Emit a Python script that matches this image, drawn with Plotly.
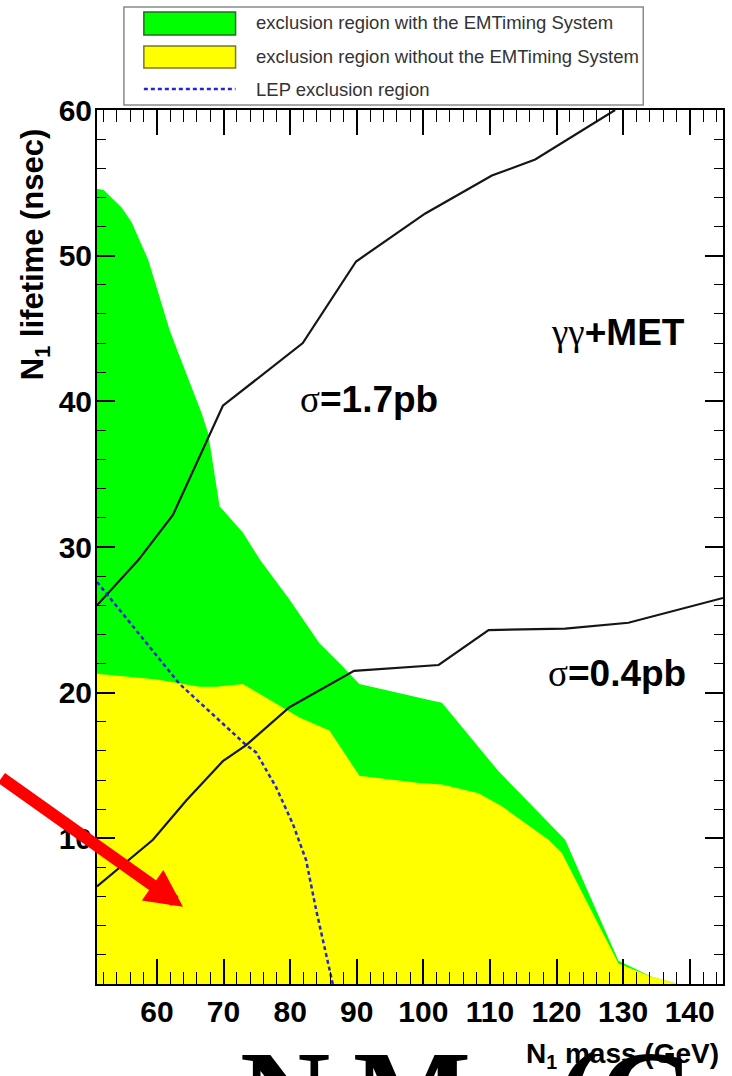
import plotly.graph_objects as go

# ---------------- data ----------------
green_mass = [51.0, 52.0, 54.7, 56.2, 58.7, 61.9, 63.4, 66.7, 67.7, 69.4, 72.9, 75.5,
              79.9, 84.4, 87.9, 90.4, 100.9, 102.8, 111.3, 121.3, 129.3, 134.3, 138.3]
green_life = [54.6, 54.5, 53.3, 52.3, 49.7, 44.9, 43.1, 39.2, 37.8, 32.8, 31.0, 29.1,
              26.4, 23.4, 21.8, 20.6, 19.5, 19.3, 14.6, 9.9, 1.6, 0.5, 0.0]

yellow_mass = [51.0, 60.0, 66.4, 68.9, 72.9, 78.9, 81.4, 85.9, 90.4, 99.4, 102.8, 108.3,
               111.8, 118.8, 120.8, 129.3, 134.3, 138.3]
yellow_life = [21.3, 20.9, 20.4, 20.4, 20.6, 19.0, 18.3, 17.4, 14.3, 13.8, 13.7, 13.1,
               12.2, 9.9, 9.0, 1.4, 0.5, 0.0]

sig17_mass = [51.0, 57.2, 62.4, 69.9, 81.9, 89.9, 100.3, 110.3, 116.8, 128.8]
sig17_life = [26.0, 29.1, 32.2, 39.7, 44.0, 49.6, 52.9, 55.5, 56.6, 60.0]

sig04_mass = [51.0, 59.4, 64.4, 69.9, 73.4, 79.9, 89.6, 102.3, 109.8, 121.3, 130.8, 145.0]
sig04_life = [6.7, 9.9, 12.6, 15.3, 16.4, 19.0, 21.5, 21.9, 24.3, 24.4, 24.8, 26.5]

lep_mass = [51.0, 56.9, 63.4, 68.4, 73.4, 74.9, 77.9, 80.4, 82.4, 83.9, 86.4]
lep_life = [27.6, 24.3, 20.6, 18.5, 16.4, 15.9, 13.5, 11.0, 8.5, 5.1, 0.0]

x_tickvals = [60, 70, 80, 90, 100, 110, 120, 130, 140]
x_ticktext = ["60", "70", "80", "90", "100", "110", "120", "130", "140"]
y_tickvals = [0, 10, 20, 30, 40, 50, 60]
y_ticktext = ["", "10", "20", "30", "40", "50", "60"]

legend_labels = ["exclusion region with the EMTiming System",
                 "exclusion region without the EMTiming System",
                 "LEP exclusion region"]

# big slide-title words that peek in at the bottom edge
slide_words = ["N<sub>1</sub>", "Mass", "(GeV)"]

# ---------------- layout geometry ----------------
W, H = 732, 1076
ML, MR, MT, MB = 97, 7, 110, 92
PW, PH = W - ML - MR, H - MT - MB


def px_x(p):
    return (p - ML) / PW


def px_y(p):
    return (H - MB - p) / PH


SANS = "Liberation Sans, Arial, Helvetica, sans-serif"
SERIF = "Liberation Serif, Times New Roman, serif"

fig = go.Figure()

fig.add_trace(go.Scatter(
    x=green_mass + [green_mass[0]], y=green_life + [0.0],
    mode="lines", fill="toself", fillcolor="#00ff00",
    line=dict(width=0, color="#00ff00"), hoverinfo="skip", showlegend=False))

fig.add_trace(go.Scatter(
    x=yellow_mass + [yellow_mass[0]], y=yellow_life + [0.0],
    mode="lines", fill="toself", fillcolor="#ffff00",
    line=dict(width=0, color="#ffff00"), hoverinfo="skip", showlegend=False))

fig.add_trace(go.Scatter(x=sig17_mass, y=sig17_life, mode="lines",
                         line=dict(color="#151515", width=2.2), showlegend=False))
fig.add_trace(go.Scatter(x=sig04_mass, y=sig04_life, mode="lines",
                         line=dict(color="#151515", width=2.2), showlegend=False))
fig.add_trace(go.Scatter(x=lep_mass, y=lep_life, mode="lines",
                         line=dict(color="#2424d8", width=2.5, dash="4px,3px"),
                         showlegend=False))

axis_common = dict(showline=True, linecolor="black", linewidth=2, mirror="allticks",
                   ticks="inside", tickcolor="black", showgrid=False, zeroline=False,
                   tickfont=dict(family=SANS, size=30, color="black", weight="bold"))

fig.update_xaxes(range=[51, 145], tickvals=x_tickvals, ticktext=x_ticktext,
                 ticklen=25, tickwidth=1.5, ticklabelstandoff=0,
                 minor=dict(dtick=2, tick0=50, ticks="inside", ticklen=12,
                            tickwidth=1.2, tickcolor="black"),
                 **axis_common)
fig.update_yaxes(range=[0, 60], tickvals=y_tickvals, ticktext=y_ticktext,
                 ticklen=18, tickwidth=1.5, ticklabelstandoff=-3,
                 minor=dict(dtick=2, tick0=0, ticks="inside", ticklen=9,
                            tickwidth=1.2, tickcolor="black"),
                 **axis_common)

shapes = []
# legend box
shapes.append(dict(type="rect", xref="paper", yref="paper",
                   x0=px_x(124), x1=px_x(645), y0=px_y(105), y1=px_y(7),
                   line=dict(color="#8a8a8a", width=1.5), fillcolor="white"))
shapes.append(dict(type="rect", xref="paper", yref="paper",
                   x0=px_x(144), x1=px_x(236), y0=px_y(35), y1=px_y(12),
                   line=dict(color="#1f6f1f", width=1.5), fillcolor="#00ff00"))
shapes.append(dict(type="rect", xref="paper", yref="paper",
                   x0=px_x(144), x1=px_x(236), y0=px_y(68), y1=px_y(46),
                   line=dict(color="#7a7a20", width=1.5), fillcolor="#ffff00"))
shapes.append(dict(type="line", xref="paper", yref="paper",
                   x0=px_x(144), x1=px_x(236), y0=px_y(89), y1=px_y(89),
                   line=dict(color="#2424d8", width=2.5, dash="4px,3px")))

annotations = []
# big background slide text (only the tops of the capitals are visible)
for word, left in zip(slide_words, [238, 352, 556]):
    annotations.append(dict(xref="paper", yref="paper", x=px_x(left), y=px_y(1024),
                            xanchor="left", yanchor="top", showarrow=False, text=word,
                            font=dict(family=SERIF, size=125, color="black", weight="bold")))
for lbl, yc in zip(legend_labels, [23, 57, 89]):
    annotations.append(dict(xref="paper", yref="paper", x=px_x(254), y=px_y(yc),
                            xanchor="left", yanchor="middle", showarrow=False, text=lbl,
                            font=dict(family=SANS, size=18.5, color="#333333")))
annotations.append(dict(xref="paper", yref="paper", x=px_x(35), y=px_y(254),
                        xanchor="center", yanchor="middle", textangle=-90, showarrow=False,
                        text="N<sub>1</sub> lifetime (nsec)",
                        font=dict(family=SANS, size=31, color="black", weight="bold")))
annotations.append(dict(xref="paper", yref="paper", x=px_x(723), y=px_y(1055),
                        xanchor="right", yanchor="middle", showarrow=False,
                        text="N<sub>1</sub> mass (GeV)", bgcolor="rgba(255,255,255,0)",
                        font=dict(family=SANS, size=28, color="black", weight="bold")))

sig = '<span style="font-family:Liberation Serif;font-weight:normal">%s</span>'
annotations.append(dict(x=129.3, y=44.7, showarrow=False,
                        text=sig % "γγ" + "+MET",
                        font=dict(family=SANS, size=37, color="black", weight="bold")))
annotations.append(dict(x=91.9, y=40.1, showarrow=False,
                        text=sig % "σ" + "=1.7pb",
                        font=dict(family=SANS, size=37, color="black", weight="bold")))
annotations.append(dict(x=129.1, y=21.3, showarrow=False,
                        text=sig % "σ" + "=0.4pb",
                        font=dict(family=SANS, size=37, color="black", weight="bold")))
# red arrow
annotations.append(dict(x=63.9, y=5.3, ax=-190, ay=-130, text="", showarrow=True,
                        arrowhead=2, arrowsize=0.62, arrowwidth=12, arrowcolor="#ff0000"))

fig.update_layout(width=W, height=H, autosize=False,
                  margin=dict(l=ML, r=MR, t=MT, b=MB, pad=0),
                  plot_bgcolor="white", paper_bgcolor="white",
                  showlegend=False, shapes=shapes, annotations=annotations)

fig.write_html("out.html", config={"displayModeBar": False},
               post_script="document.body.style.margin='0px';document.body.style.overflow='hidden';")
